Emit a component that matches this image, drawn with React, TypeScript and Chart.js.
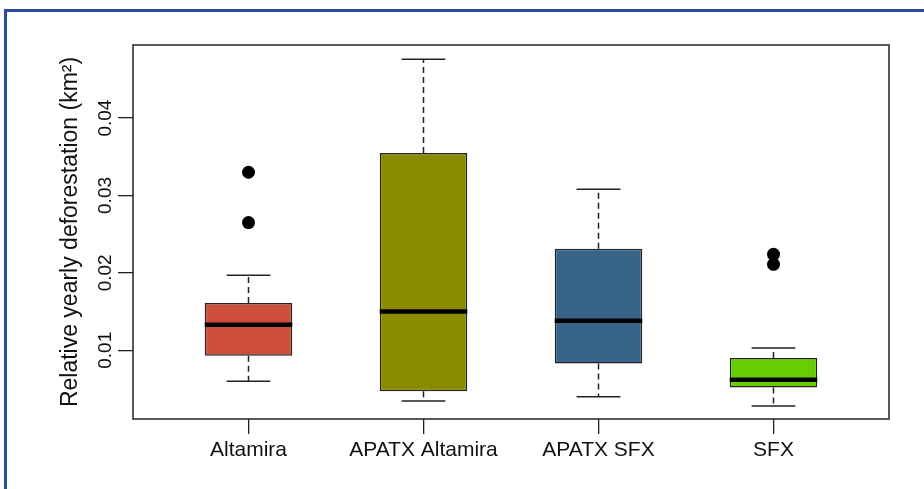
import React, { useEffect, useRef } from 'react';
import { Chart, registerables } from 'chart.js';

Chart.register(...registerables);

const categories = ['Altamira', 'APATX Altamira', 'APATX SFX', 'SFX'];
const lowerWhisker = [0.006, 0.00345, 0.004, 0.0028];
const q1 = [0.0093, 0.0047, 0.0083, 0.0052];
const medians = [0.0133, 0.015, 0.0138, 0.0062];
const q3 = [0.0161, 0.0355, 0.0231, 0.009];
const upperWhisker = [0.0197, 0.0476, 0.0308, 0.0103];
const outliers = [[0.033, 0.0265], [], [], [0.0224, 0.0211]];
const boxColors = ['#CD4F39', '#8B8B00', '#36648B', '#66CD00'];
const yTickValues = [0.01, 0.02, 0.03, 0.04];
const yAxisTitle = 'Relative yearly deforestation (km\u00B2)';

const FONT = '"Liberation Sans", Arial, sans-serif';

const boxplotExtras = {
  id: 'boxplotExtras',
  afterDatasetsDraw(chart: any) {
    const { ctx, scales, chartArea } = chart;
    const xs = scales.x;
    const ys = scales.y;
    const meta = chart.getDatasetMeta(0);
    ctx.save();
    const line = (x1: number, y1: number, x2: number, y2: number) => {
      ctx.beginPath();
      ctx.moveTo(x1, y1);
      ctx.lineTo(x2, y2);
      ctx.stroke();
    };
    categories.forEach((_, i) => {
      const bar = meta.data[i] as any;
      const cx = xs.getPixelForValue(i + 1);
      const half = bar.width / 2;
      const capHalf = half / 2;
      ctx.strokeStyle = '#222';
      ctx.lineWidth = 1.5;
      ctx.lineCap = 'butt';
      ctx.setLineDash([6, 4]);
      line(cx, ys.getPixelForValue(q3[i]), cx, ys.getPixelForValue(upperWhisker[i]));
      line(cx, ys.getPixelForValue(q1[i]), cx, ys.getPixelForValue(lowerWhisker[i]));
      ctx.setLineDash([]);
      const yu = ys.getPixelForValue(upperWhisker[i]);
      const yl = ys.getPixelForValue(lowerWhisker[i]);
      line(cx - capHalf, yu, cx + capHalf, yu);
      line(cx - capHalf, yl, cx + capHalf, yl);
      ctx.strokeStyle = '#000';
      ctx.lineWidth = 4.5;
      const ym = ys.getPixelForValue(medians[i]);
      line(cx - half, ym, cx + half, ym);
    });
    ctx.strokeStyle = '#222';
    ctx.lineWidth = 1.5;
    ctx.strokeRect(chartArea.left, chartArea.top, chartArea.right - chartArea.left, chartArea.bottom - chartArea.top);
    ctx.restore();
  },
};

export default function App() {
  const canvasRef = useRef<HTMLCanvasElement>(null);

  useEffect(() => {
    if (!canvasRef.current) return;
    const outlierPoints: { x: number; y: number }[] = [];
    outliers.forEach((arr, i) => arr.forEach((v) => outlierPoints.push({ x: i + 1, y: v })));

    const chart = new Chart(canvasRef.current, {
      type: 'bar',
      data: {
        datasets: [
          {
            type: 'bar',
            data: categories.map((_, i) => ({ x: i + 1, y: [q1[i], q3[i]] })) as any,
            backgroundColor: boxColors,
            borderColor: '#222',
            borderWidth: 1.5,
            borderSkipped: false,
            barPercentage: 0.5,
            categoryPercentage: 1,
          },
          {
            type: 'scatter',
            data: outlierPoints as any,
            pointRadius: 6.5,
            pointBackgroundColor: '#000',
            pointBorderColor: '#000',
            pointBorderWidth: 0,
          } as any,
        ],
      },
      options: {
        animation: false,
        responsive: true,
        maintainAspectRatio: false,
        layout: { padding: { top: 45, right: 35, left: 0, bottom: 0 } },
        plugins: { legend: { display: false }, tooltip: { enabled: false } },
        scales: {
          x: {
            type: 'linear',
            min: 0.34,
            max: 4.66,
            offset: false,
            afterBuildTicks: (scale: any) => {
              scale.ticks = categories.map((_, i) => ({ value: i + 1 }));
            },
            afterFit: (scale: any) => {
              scale.height = 70;
            },
            border: { display: false },
            grid: { offset: false, drawOnChartArea: false, drawTicks: true, tickLength: 15, color: '#222', lineWidth: 1.3 },
            ticks: {
              autoSkip: false,
              maxRotation: 0,
              minRotation: 0,
              padding: 4,
              color: '#111',
              font: { family: FONT, size: 21 },
              callback: (v: any) => categories[Math.round(Number(v)) - 1] ?? '',
            },
          },
          y: {
            type: 'linear',
            min: 0.00112,
            max: 0.04944,
            afterBuildTicks: (scale: any) => {
              scale.ticks = yTickValues.map((v) => ({ value: v }));
            },
            afterFit: (scale: any) => {
              scale.width = 133;
            },
            border: { display: false },
            grid: { drawOnChartArea: false, drawTicks: true, tickLength: 15, color: '#222', lineWidth: 1.3 },
            ticks: {
              minRotation: 90,
              maxRotation: 90,
              crossAlign: 'center',
              padding: -6,
              color: '#111',
              font: { family: FONT, size: 19 },
              callback: (v: any) => Number(v).toFixed(2),
            },
            title: {
              display: true,
              text: yAxisTitle,
              color: '#111',
              font: { family: FONT, size: 23 },
              padding: { top: 57, bottom: 0 },
            },
          },
        },
      },
      plugins: [boxplotExtras],
    });
    return () => chart.destroy();
  }, []);

  return (
    <div style={{ position: 'fixed', left: 0, top: 0, width: 924, height: 489, overflow: 'hidden', background: '#fff' }}>
      <div
        style={{
          position: 'absolute',
          left: 4,
          top: 9,
          width: 1000,
          height: 1000,
          border: '3px solid #2C4A9E',
          boxSizing: 'border-box',
        }}
      />
      <div style={{ position: 'absolute', left: 0, top: 0, width: 924, height: 489 }}>
        <canvas ref={canvasRef} />
      </div>
    </div>
  );
}
